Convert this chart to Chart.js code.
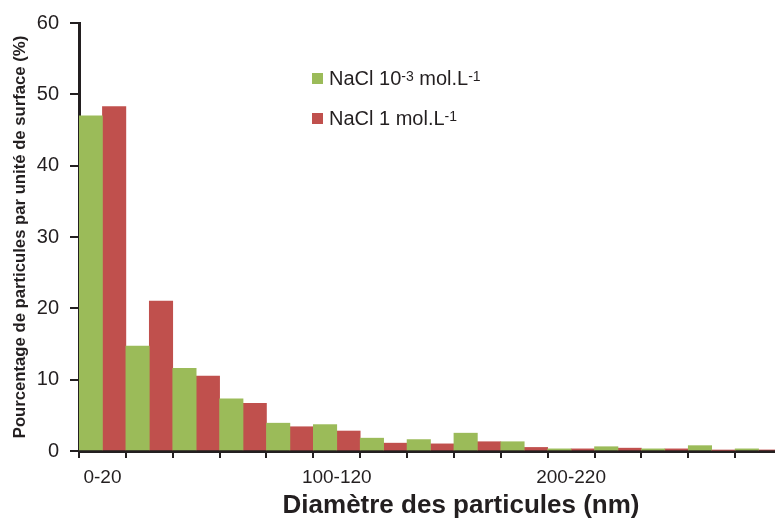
<!DOCTYPE html>
<html><head><meta charset="utf-8">
<script src="https://cdn.jsdelivr.net/npm/chart.js@4/dist/chart.umd.min.js"></script>
<style>html,body{margin:0;padding:0;background:#fff;overflow:hidden;}#wrap{position:relative;width:782px;height:519px;}</style>
</head><body><div id="wrap"><canvas id="c"></canvas></div>
<script>
const categories = ["0-20","20-40","40-60","60-80","80-100","100-120","120-140","140-160","160-180","180-200","200-220","220-240","240-260","260-280","280-300"];
const shownTicks = ["0-20","100-120","200-220"];
const labelLow = "NaCl 10⁻³ mol.L⁻¹";
const labelHigh = "NaCl 1 mol.L⁻¹";
const valuesLow = [47.0,14.7,11.6,7.3,3.9,3.7,1.8,1.6,2.5,1.3,0.3,0.6,0.3,0.75,0.3];
const valuesHigh = [48.3,21.0,10.5,6.7,3.4,2.8,1.1,1.0,1.3,0.5,0.3,0.4,0.3,0.1,0.15];
const yTicks = [0,10,20,30,40,50,60];
const xTitle = "Diamètre des particules (nm)";
const yTitle = "Pourcentage de particules par unité de surface (%)";

const INK = '#231F20';
const FONT = '"Liberation Sans", Arial, Helvetica, sans-serif';
const SUP = {'⁻':'-','³':'3','¹':'1','²':'2','⁰':'0'};

function drawRich(ctx, text, x, y){
  const segs = [];
  for (const ch of text){
    const sup = ch in SUP;
    const c = sup ? SUP[ch] : ch;
    if (segs.length && segs[segs.length-1].sup === sup) segs[segs.length-1].t += c;
    else segs.push({sup, t:c});
  }
  ctx.textAlign = 'left'; ctx.textBaseline = 'alphabetic';
  let cx = x;
  for (const s of segs){
    ctx.font = (s.sup ? '14px ' : '20px ') + FONT;
    ctx.fillText(s.t, cx, s.sup ? y - 4 : y);
    cx += ctx.measureText(s.t).width;
  }
}

const decor = {
  id:'decor',
  afterDraw(chart){
    const ctx = chart.ctx;
    ctx.save();
    ctx.fillStyle = INK;
    ctx.font = 'bold 26px ' + FONT;
    ctx.textAlign = 'center'; ctx.textBaseline = 'alphabetic';
    ctx.fillText(xTitle, 461, 513);
    chart.data.datasets.forEach((ds,i)=>{
      ctx.fillStyle = ds.backgroundColor;
      ctx.fillRect(312, 73 + i*40, 11, 11);
      ctx.fillStyle = INK;
      drawRich(ctx, ds.label, 329, 85 + i*40);
    });
    ctx.restore();
  }
};

new Chart(document.getElementById('c'), {
  type:'bar',
  data:{
    labels: categories,
    datasets:[
      {label: labelLow, data: valuesLow, backgroundColor:'#9BBB59', borderWidth:0},
      {label: labelHigh, data: valuesHigh, backgroundColor:'#C0504D', borderWidth:0}
    ]
  },
  options:{
    responsive:true, maintainAspectRatio:false, animation:false, devicePixelRatio:1,
    layout:{padding:{top:23,left:0,right:0,bottom:0}},
    categoryPercentage:1.0, barPercentage:1.0,
    plugins:{legend:{display:false}, tooltip:{enabled:false}, title:{display:false}},
    scales:{
      x:{
        grid:{display:true, drawOnChartArea:false, drawTicks:true, tickLength:7, color:INK, lineWidth:2, offset:true},
        border:{display:true, color:INK, width:3},
        ticks:{autoSkip:false, maxRotation:0, minRotation:0, color:INK, font:{family:FONT, size:19}, padding:8,
          callback:function(v,i){ const l = categories[i]; return shownTicks.includes(l) ? l : ''; }},
        afterFit:function(s){ s.height = 68; }
      },
      y:{
        min:0, max:60,
        afterBuildTicks:function(s){ s.ticks = yTicks.map(v=>({value:v})); },
        grid:{display:true, drawOnChartArea:false, drawTicks:true, tickLength:9, color:INK, lineWidth:2},
        border:{display:true, color:INK, width:3},
        ticks:{color:INK, font:{family:FONT, size:20}, padding:11},
        title:{display:true, text:yTitle, color:INK, font:{family:FONT, size:16.7, weight:'bold'}, padding:{top:10,bottom:0}},
        afterFit:function(s){ s.width = 79; }
      }
    }
  },
  plugins:[decor]
});
</script>
</body></html>
